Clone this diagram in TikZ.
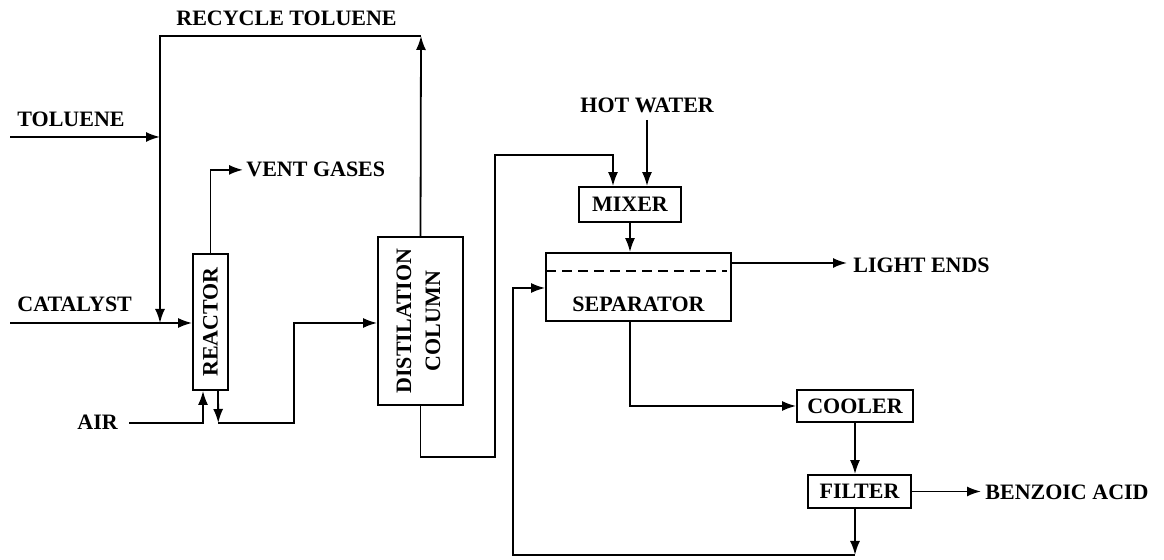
\documentclass[tikz,border=0pt]{standalone}
\usepackage{fontspec}
\setmainfont{Liberation Serif}
\usetikzlibrary{positioning}
\usetikzlibrary{arrows.meta}
\tikzset{basic/.style={draw,line width=0.9pt,inner sep=0pt,font=\fontsize{11}{13}\selectfont\bfseries}}
\tikzset{unit/.style={basic,rectangle}}
\tikzset{stream/.style={inner sep=0pt,font=\fontsize{11}{13}\selectfont\bfseries}}
\tikzset{pipe/.style={line width=0.9pt}}
\tikzset{flow/.style={pipe,-{Latex[length=7pt,width=5pt]}}}

\begin{document}
\begin{tikzpicture}[x=0.5pt,y=-0.5pt]
        \useasboundingbox (0,0) rectangle (1164,560);
        % process units
        \node[unit,minimum width=17.5pt,minimum height=68pt] (reactor) at (210.5,322) {\rotatebox{90}{REACTOR}};
        \node[unit,minimum width=42.5pt,minimum height=84pt] (col) at (420.5,321)
            {\rotatebox{90}{\begin{tabular}{@{}c@{}}DISTILATION\\[1.5pt]COLUMN\end{tabular}}};
        \node[unit,minimum width=51pt,minimum height=17.5pt] (mixer) at (630,204.5) {MIXER};
        \node[unit,minimum width=92.5pt,minimum height=34pt] (sep) at (638.5,287) {};
        \node[stream,anchor=base] (septxt) at (638.5,312) {SEPARATOR};
            \draw[pipe,dash pattern=on 5pt off 3pt] ([xshift=0.5pt,yshift=-9.5pt]sep.north west) -- ([xshift=-2.5pt,yshift=-9.5pt]sep.north east);
        \node[unit,minimum width=58pt,minimum height=16pt] (cooler) at (855,406) {COOLER};
        \node[unit,minimum width=51.5pt,minimum height=16.5pt] (filter) at (859.5,491.5) {FILTER};
        % stream labels
        \node[stream,anchor=base west] (recycle) at (176,26) {RECYCLE TOLUENE};
        \node[stream,anchor=base west] (toluene) at (17,127) {TOLUENE};
        \node[stream,anchor=base west] (vent) at (246,177) {VENT GASES};
        \node[stream,anchor=base west] (catalyst) at (17,312) {CATALYST};
        \node[stream,anchor=base west] (air) at (77,430) {AIR};
        \node[stream,anchor=base west] (hotwater) at (580,113) {HOT WATER};
        \node[stream,anchor=base west] (light) at (853,273) {LIGHT ENDS};
        \node[stream,anchor=base west] (benzoic) at (985,500) {BENZOIC ACID};
        % free ends and corners
        \coordinate (tolin) at (10,137);
        \coordinate (catin) at (10,323);
        \coordinate (rectop) at (421,36);
        \coordinate (recleft) at (160,36);
        \coordinate (rout) at (218.25,423);
        \coordinate (cb1) at (495,457);
        \coordinate (cb2) at (495,155);
        \coordinate (hwin) at (647,120);
        \coordinate (fbot) at (855,555);
        \coordinate (rb) at (513,555);
        % feeds and reactor
            \path[draw,flow] (tolin) -- (tolin -| recleft);
            \path[draw,flow] (catin) -- (catin -| reactor.west);
            \path[draw,flow] ([xshift=5.5pt]air.east) -| ([xshift=-3.75pt]reactor.south);
            \path[draw,flow] (reactor.north) |- ([xshift=-1.5pt]vent.west);
            \path[draw,flow] ([xshift=3.75pt]reactor.south) -- (rout);
            \path[draw,flow] (rout) -- ++(76,0) |- (col.west |- catin);
        % recycle toluene
            \path[draw,flow] (col.north) -- (rectop);
            \path[draw,flow] (rectop) -- (recleft) -- (recleft |- catin);
        % column bottoms to mixer
            \path[draw,flow] (col.south) |- (cb1) -- (cb2) -| ([xshift=-8.5pt]mixer.north);
            \path[draw,flow] (hwin) -- (hwin |- mixer.north);
            \path[draw,flow] (mixer.south) -- (mixer.south |- sep.north);
            \path[draw,flow] (sep.east |- 0,263) -- (847,263);
            \path[draw,flow] (mixer.south |- sep.south) |- (cooler.west);
            \path[draw,flow] (cooler.south) -- (cooler.south |- filter.north);
            \path[draw,flow] (filter.east) -- ([xshift=-2pt]filter.east -| benzoic.west);
        % filtrate back to separator
            \path[draw,flow] (cooler.south |- filter.south) -- (fbot);
            \path[draw,flow] (fbot) -- (rb) |- (sep.west |- 0,288);
    \end{tikzpicture}
\end{document}
